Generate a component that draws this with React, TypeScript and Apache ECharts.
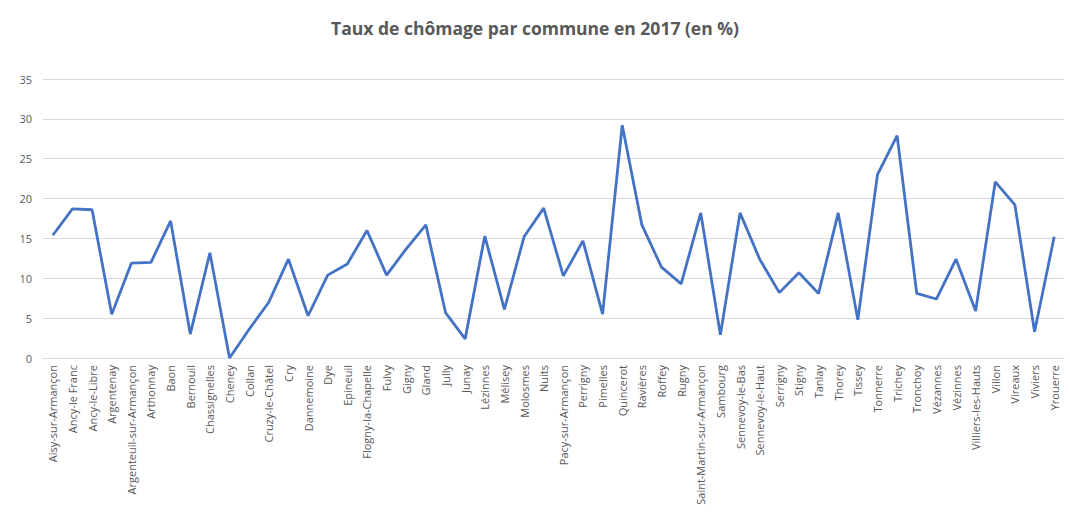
import React, { useEffect, useRef } from "react";
import * as echarts from "echarts";

const communes = [
  "Aisy-sur-Armançon", "Ancy-le Franc", "Ancy-le-Libre", "Argentenay", "Argenteuil-sur-Armançon",
  "Arthonnay", "Baon", "Bernouil", "Chassignelles", "Cheney", "Collan", "Cruzy-le-Châtel", "Cry",
  "Dannemoine", "Dye", "Epineuil", "Flogny-la-Chapelle", "Fulvy", "Gigny", "Gland", "Jully", "Junay",
  "Lézinnes", "Mélisey", "Molosmes", "Nuits", "Pacy-sur-Armançon", "Perrigny", "Pimelles", "Quincerot",
  "Ravières", "Roffey", "Rugny", "Saint-Martin-sur-Armançon", "Sambourg", "Sennevoy-le-Bas",
  "Sennevoy-le-Haut", "Serrigny", "Stigny", "Tanlay", "Thorey", "Tissey", "Tonnerre", "Trichey",
  "Tronchoy", "Vézannes", "Vézinnes", "Villiers-les-Hauts", "Villon", "Vireaux", "Viviers", "Yrouerre",
];

const tauxChomage = [
  15.4, 18.7, 18.6, 5.5, 11.9, 12.0, 17.2, 3.0, 13.2, 0, 3.6, 7.0, 12.4,
  5.3, 10.4, 11.8, 16.0, 10.4, 13.7, 16.7, 5.7, 2.4, 15.3, 6.1, 15.2, 18.8,
  10.3, 14.7, 5.5, 29.2, 16.7, 11.4, 9.3, 18.2, 2.9, 18.2, 12.4, 8.2, 10.7,
  8.1, 18.2, 4.8, 23.0, 27.9, 8.1, 7.4, 12.4, 5.9, 22.1, 19.2, 3.3, 15.2,
];

const yTicks = [0, 5, 10, 15, 20, 25, 30, 35];

export default function App() {
  const ref = useRef<HTMLDivElement>(null);
  useEffect(() => {
    if (!ref.current) return;
    const chart = echarts.init(ref.current, null, { renderer: "svg" });
    chart.setOption({
      animation: false,
      backgroundColor: "#ffffff",
      title: {
        text: "Taux de chômage par commune en 2017 (en %)",
        left: "center",
        top: 14,
        textStyle: { fontFamily: "Open Sans", fontSize: 17.5, fontWeight: "bold", color: "#595959" },
      },
      grid: { left: 43, right: 6, top: 79, bottom: 162 },
      xAxis: {
        type: "category",
        data: communes,
        boundaryGap: true,
        axisLine: { lineStyle: { color: "#d9d9d9", width: 1 } },
        axisTick: { show: false },
        axisLabel: {
          rotate: 90,
          interval: 0,
          margin: 7,
          fontFamily: "Open Sans",
          fontSize: 11,
          color: "#595959",
        },
      },
      yAxis: {
        type: "value",
        min: yTicks[0],
        max: yTicks[yTicks.length - 1],
        interval: 5,
        axisLine: { show: false },
        axisTick: { show: false },
        axisLabel: { margin: 11, fontFamily: "Open Sans", fontSize: 11, color: "#595959" },
        splitLine: { lineStyle: { color: "#d9d9d9", width: 1 } },
      },
      series: [
        {
          type: "line",
          data: tauxChomage,
          symbol: "none",
          lineStyle: { color: "#4472C4", width: 2.8 },
        },
      ],
    });
    return () => chart.dispose();
  }, []);
  return (
    <div
      ref={ref}
      style={{ position: "fixed", left: 0, top: 0, width: 1070, height: 520, background: "#fff" }}
    />
  );
}
